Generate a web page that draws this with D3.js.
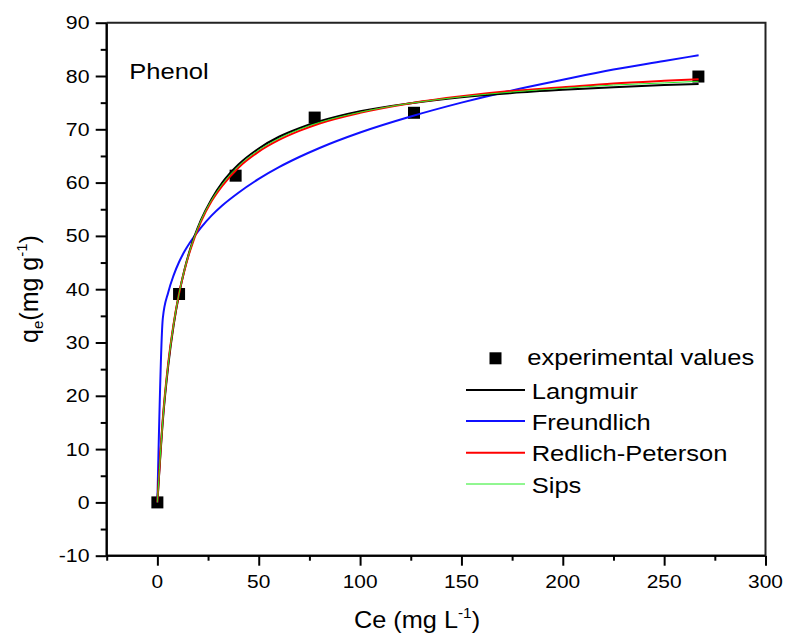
<!DOCTYPE html>
<html>
<head>
<meta charset="utf-8">
<script src="https://cdn.jsdelivr.net/npm/d3@7"></script>
<style>
  html, body { margin: 0; padding: 0; background: #fff; }
  svg { display: block; font-family: "Liberation Sans", Arial, sans-serif; }
</style>
</head>
<body>
<svg id="chart" width="785" height="635"></svg>
<script>
// Phenol adsorption isotherm: measured points and four fitted models
const expCe = [0, 10.7, 38.6, 77.6, 126.6, 266.9];
const expQe = [0, 39.1, 61.3, 72.2, 73.1, 79.9];

// Ce values at which the model curves are listed
const fitCe = [0, 2.67, 5.34, 8, 10.7, 13.4, 16, 21.4, 26.7, 32, 40, 50, 60, 70, 80, 100, 125, 150, 175, 200, 225, 250, 267];
const langmuirQe   = [0, 15.2, 25.6, 33.2, 39.1, 43.7, 47.3, 52.9, 56.9, 60.0, 63.4, 66.4, 68.6, 70.2, 71.5, 73.4, 74.9, 76.0, 76.8, 77.4, 77.9, 78.3, 78.5];
const freundlichQe = [0, 34.5, 39.4, 42.6, 45.1, 47.1, 48.7, 51.5, 53.8, 55.7, 58.1, 60.7, 62.9, 64.8, 66.5, 69.4, 72.4, 75.0, 77.3, 79.3, 81.2, 82.8, 83.9];
const redlichQe    = [0, 15.7, 26.1, 33.5, 39.2, 43.6, 47.1, 52.6, 56.5, 59.4, 62.8, 65.8, 68.0, 69.7, 71.1, 73.1, 74.9, 76.2, 77.2, 77.9, 78.6, 79.1, 79.4];
const sipsQe       = [0, 15.4, 25.9, 33.4, 39.2, 43.7, 47.2, 52.8, 56.7, 59.7, 63.1, 66.1, 68.3, 70.0, 71.3, 73.2, 74.9, 76.1, 77.0, 77.7, 78.3, 78.7, 79.0];

const seriesNames  = ["Langmuir", "Freundlich", "Redlich-Peterson", "Sips"];
const seriesColors = ["#000000", "#1010ff", "#ff0000", "#22ee22"];
const seriesWidths = [2, 2, 2, 1];

const xMajor = [0, 50, 100, 150, 200, 250, 300];
const xMinor = [-25, 25, 75, 125, 175, 225, 275];
const yMajor = [-10, 0, 10, 20, 30, 40, 50, 60, 70, 80, 90];
const yMinor = [-5, 5, 15, 25, 35, 45, 55, 65, 75, 85];

const svg = d3.select("#chart");
const L = 106.7, R = 765.5, T = 22.7, B = 555.7;
const x = d3.scaleLinear([-25, 300], [L, R]);
const y = d3.scaleLinear([-10, 90], [B, T]);

// text helper: glyphs are drawn slightly wide
function label(g, px, py, str, size, anchor, sx) {
  return g.append("text")
    .attr("transform", `translate(${px},${py}) scale(${sx},1)`)
    .attr("text-anchor", anchor)
    .attr("font-size", size)
    .attr("fill", "#000")
    .text(str);
}

// axes
const axX = svg.append("g").attr("transform", `translate(0,${B})`);
axX.call(d3.axisBottom(x).tickValues(xMajor).tickSize(10).tickFormat(""));
axX.append("g").call(d3.axisBottom(x).tickValues(xMinor).tickSize(5).tickFormat(""));
const axY = svg.append("g").attr("transform", `translate(${L},0)`);
axY.call(d3.axisLeft(y).tickValues(yMajor).tickSize(11).tickFormat(""));
axY.append("g").call(d3.axisLeft(y).tickValues(yMinor).tickSize(6).tickFormat(""));
svg.selectAll(".domain").attr("stroke", "#000").attr("stroke-width", 2);
svg.selectAll(".tick line").attr("stroke", "#000").attr("stroke-width", 2);
axX.selectAll(".domain").attr("d", `M${L},0H${R}`);
axY.selectAll(".domain").attr("d", `M0,${B}V${T}`);

// frame top/right
svg.append("path")
  .attr("d", `M${L},${T}H${R}V${B}`)
  .attr("fill", "none").attr("stroke", "#222").attr("stroke-width", 2);

// tick labels
const tl = svg.append("g");
xMajor.forEach(v => label(tl, x(v), 588, String(v), 19, "middle", 1.1));
yMajor.forEach(v => label(tl, 89.5, y(v) + 6.5, String(v), 19, "end", 1.12));

// axis titles
const xt = svg.append("text")
  .attr("transform", "translate(354,628) scale(1.1,1)")
  .attr("font-size", 23).attr("fill", "#000");
xt.append("tspan").text("Ce (mg L");
xt.append("tspan").attr("font-size", 14).attr("dy", -10).text("-1");
xt.append("tspan").attr("dy", 10).text(")");

const yt = svg.append("text")
  .attr("transform", "translate(38,289) rotate(-90)")
  .attr("text-anchor", "middle")
  .attr("font-size", 25).attr("fill", "#000");
yt.append("tspan").text("q");
yt.append("tspan").attr("font-size", 15).attr("dy", 5).text("e");
yt.append("tspan").attr("dy", -5).text("(mg g");
yt.append("tspan").attr("font-size", 15).attr("dy", -11).text("-1");
yt.append("tspan").attr("dy", 11).text(")");

// sample label
label(svg, 129.3, 79, "Phenol", 22, "start", 1.16);

// experimental points
const half = 6;
svg.append("g").selectAll("rect")
  .data(expCe.map((c, i) => [c, expQe[i]]))
  .join("rect")
  .attr("x", d => x(d[0]) - half)
  .attr("y", d => y(d[1]) - half)
  .attr("width", half * 2).attr("height", half * 2)
  .attr("fill", "#000");

// model curves
const fits = [langmuirQe, freundlichQe, redlichQe, sipsQe];
const line = d3.line().x(d => x(d[0])).y(d => y(d[1])).curve(d3.curveMonotoneX);
const drawOrder = [1, 0, 2, 3];
drawOrder.forEach(k => {
  svg.append("path")
    .datum(fitCe.map((c, i) => [c, fits[k][i]]))
    .attr("d", line)
    .attr("fill", "none")
    .attr("stroke", seriesColors[k])
    .attr("stroke-width", seriesWidths[k])
    .attr("stroke-linejoin", "round");
});

// legend
const lg = svg.append("g");
lg.append("rect").attr("x", 489.5).attr("y", 352.3).attr("width", 12).attr("height", 12).attr("fill", "#000");
label(lg, 527.3, 365, "experimental values", 22, "start", 1.16);
const rowY = [390, 421, 452.7, 484];
seriesNames.forEach((name, k) => {
  lg.append("line")
    .attr("x1", 466).attr("x2", 525)
    .attr("y1", rowY[k]).attr("y2", rowY[k])
    .attr("stroke", seriesColors[k]).attr("stroke-width", seriesWidths[k]);
  label(lg, 531.7, rowY[k] + 8.5, name, 22, "start", 1.16);
});
</script>
</body>
</html>
